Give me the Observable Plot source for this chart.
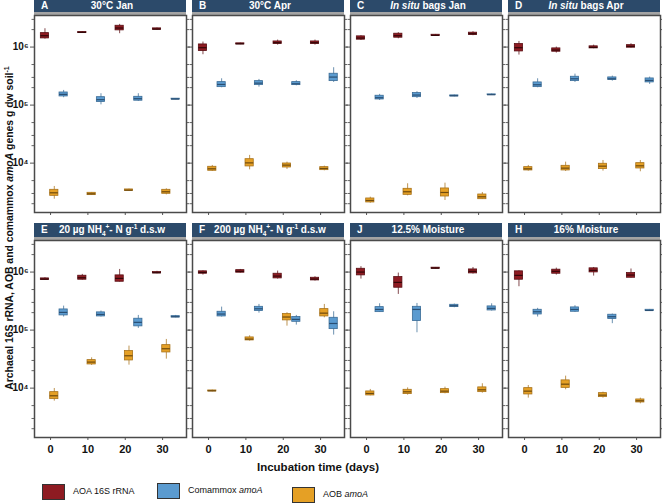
<!DOCTYPE html>
<html><head><meta charset="utf-8">
<script src="https://cdn.jsdelivr.net/npm/d3@7"></script>
<script src="https://cdn.jsdelivr.net/npm/@observablehq/plot@0.6"></script>
<style>
body{margin:0;background:#fff;font-family:"Liberation Sans",Arial,sans-serif}
#fig{position:relative;width:662px;height:503px;overflow:hidden;background:#fff}
.strip{position:absolute;background:#2c4a6a;color:#fff;font-weight:bold;font-size:10px;border-bottom:3px solid #a4a4a4;box-sizing:content-box}
.strip .lt{position:absolute;left:7px;top:0}
.strip .tt{position:absolute;left:16px;right:12px;top:0;text-align:center;white-space:nowrap}
.strip sub,.strip sup{font-size:6.5px;line-height:0}
.pl{position:absolute}
.pl svg{overflow:visible;max-width:none !important}
#ytitle{position:absolute;left:9px;top:228px;transform:translate(-50%,-50%) rotate(-90deg);white-space:nowrap;font-weight:bold;font-size:10.4px;color:#111}
#ytitle sup{font-size:7px}
#xtitle{position:absolute;left:318px;top:467px;transform:translate(-50%,-50%);white-space:nowrap;font-weight:bold;font-size:11.5px;color:#111}
.lg{position:absolute;font-size:9px;color:#111;white-space:nowrap}
.sw{position:absolute;width:23px;height:16px;border:1px solid #333;box-sizing:border-box}
</style>
</head><body>
<div id="fig"></div>
<script>
// ---------- data ----------
const panelLetters = ["A","B","C","D","E","F","J","H"];
const panelTitles = ["30°C Jan","30°C Apr","<i>In situ</i> bags Jan","<i>In situ</i> bags Apr",
  "20 µg NH<sub>4</sub><sup>+</sup>- N g<sup>-1</sup> d.s.w","200 µg NH<sub>4</sub><sup>+</sup>- N g<sup>-1</sup> d.s.w",
  "12.5% Moisture","16% Moisture"];
const days = [0, 10, 20, 30];
const seriesNames = ["AOA 16S rRNA", "Comammox amoA", "AOB amoA"];
const xTicks = [0, 10, 20, 30];
const yMajor = [1e4, 1e5, 1e6];
const yMinor = [2e3, 3e3, 5e3, 2e4, 3e4, 5e4, 2e5, 3e5, 5e5, 2e6, 3e6];

// each box: [lower whisker, q1, median, q3, upper whisker]; one row per panel, one box per day
const aoa = [
 [[1.37e6,1.41e6,1.57e6,1.74e6,2.07e6],[1.72e6,1.74e6,1.79e6,1.82e6,1.84e6],[1.70e6,1.94e6,2.13e6,2.33e6,2.46e6],[1.96e6,1.99e6,2.04e6,2.10e6,2.13e6]],
 [[7.38e5,8.53e5,9.75e5,1.11e6,1.22e6],[1.10e6,1.11e6,1.14e6,1.16e6,1.17e6],[1.08e6,1.13e6,1.19e6,1.25e6,1.32e6],[1.08e6,1.13e6,1.19e6,1.25e6,1.32e6]],
 [[1.30e6,1.34e6,1.43e6,1.53e6,1.57e6],[1.39e6,1.45e6,1.57e6,1.70e6,1.77e6],[1.53e6,1.55e6,1.59e6,1.63e6,1.65e6],[1.57e6,1.61e6,1.70e6,1.77e6,1.84e6]],
 [[7.28e5,8.41e5,9.75e5,1.13e6,1.25e6],[7.88e5,8.31e5,8.88e5,9.49e5,1.0e6],[9.36e5,9.49e5,9.87e5,1.03e6,1.08e6],[9.61e5,9.75e5,1.03e6,1.08e6,1.14e6]],
 [[7.18e5,7.28e5,7.57e5,7.78e5,7.98e5],[7.28e5,7.38e5,7.98e5,8.65e5,9.12e5],[6.73e5,6.81e5,7.78e5,8.77e5,1.11e6],[9.36e5,9.49e5,9.75e5,1.0e6,1.03e6]],
 [[8.88e5,9.36e5,9.87e5,1.03e6,1.05e6],[9.61e5,9.75e5,1.03e6,1.08e6,1.11e6],[7.57e5,7.78e5,8.53e5,9.36e5,1.04e6],[7.0e5,7.18e5,7.57e5,7.98e5,8.31e5]],
 [[7.57e5,8.77e5,1.0e6,1.14e6,1.24e6],[4.12e5,5.37e5,6.64e5,8.20e5,9.61e5],[1.13e6,1.14e6,1.17e6,1.19e6,1.20e6],[9.24e5,9.49e5,1.03e6,1.11e6,1.20e6]],
 [[5.59e5,7.38e5,8.77e5,1.03e6,1.05e6],[8.88e5,9.36e5,1.03e6,1.10e6,1.17e6],[8.53e5,9.87e5,1.07e6,1.16e6,1.20e6],[7.89e5,7.98e5,8.88e5,9.61e5,1.13e6]]
];
const comammox = [
 [[1.34e5,1.41e5,1.53e5,1.65e5,1.79e5],[1.01e5,1.13e5,1.24e5,1.37e5,1.57e5],[1.16e5,1.19e5,1.29e5,1.39e5,1.57e5],[1.24e5,1.25e5,1.27e5,1.29e5,1.30e5]],
 [[1.99e5,2.04e5,2.27e5,2.49e5,2.84e5],[2.04e5,2.21e5,2.39e5,2.59e5,2.77e5],[2.15e5,2.21e5,2.33e5,2.49e5,2.63e5],[2.46e5,2.59e5,3.04e5,3.47e5,4.41e5]],
 [[1.20e5,1.25e5,1.34e5,1.45e5,1.53e5],[1.30e5,1.37e5,1.49e5,1.61e5,1.70e5],[1.39e5,1.41e5,1.45e5,1.47e5,1.49e5],[1.47e5,1.49e5,1.51e5,1.53e5,1.55e5]],
 [[1.99e5,2.04e5,2.24e5,2.46e5,2.84e5],[2.46e5,2.59e5,2.84e5,3.08e5,3.42e5],[2.59e5,2.70e5,2.84e5,3.0e5,3.16e5],[2.27e5,2.46e5,2.66e5,2.88e5,3.04e5]],
 [[1.68e5,1.79e5,2.02e5,2.27e5,2.59e5],[1.68e5,1.72e5,1.86e5,2.02e5,2.13e5],[1.07e5,1.16e5,1.36e5,1.57e5,1.79e5],[1.63e5,1.65e5,1.70e5,1.74e5,1.79e5]],
 [[1.68e5,1.72e5,1.89e5,2.07e5,2.49e5],[1.96e5,2.13e5,2.33e5,2.52e5,2.77e5],[1.22e5,1.39e5,1.53e5,1.68e5,1.79e5],[8.20e4,1.04e5,1.30e5,1.63e5,2.07e5]],
 [[2.02e5,2.04e5,2.27e5,2.49e5,2.84e5],[9.0e4,1.43e5,2.27e5,2.52e5,2.88e5],[2.43e5,2.49e5,2.63e5,2.73e5,2.81e5],[2.13e5,2.18e5,2.37e5,2.56e5,2.84e5]],
 [[1.68e5,1.86e5,2.07e5,2.24e5,2.37e5],[2.02e5,2.07e5,2.27e5,2.46e5,2.63e5],[1.29e5,1.55e5,1.70e5,1.84e5,1.89e5],[2.10e5,2.13e5,2.18e5,2.24e5,2.27e5]]
];
const aob = [
 [[2.39e3,2.73e3,3.08e3,3.47e3,3.96e3],[2.77e3,2.81e3,2.96e3,3.08e3,3.12e3],[3.29e3,3.33e3,3.42e3,3.52e3,3.56e3],[2.84e3,2.96e3,3.21e3,3.47e3,3.61e3]],
 [[7.18e3,7.38e3,7.98e3,8.65e3,9.12e3],[7.67e3,8.77e3,1.01e4,1.17e4,1.36e4],[7.78e3,8.41e3,9.24e3,9.86e3,1.04e4],[7.38e3,7.57e3,8.09e3,8.53e3,8.87e3]],
 [[2.04e3,2.10e3,2.27e3,2.46e3,2.59e3],[2.73e3,2.84e3,3.21e3,3.61e3,4.41e3],[2.27e3,2.66e3,3.12e3,3.66e3,4.52e3],[2.36e3,2.39e3,2.63e3,2.88e3,3.12e3]],
 [[7.28e3,7.48e3,7.98e3,8.53e3,9.12e3],[7.18e3,7.48e3,8.20e3,8.99e3,1.04e4],[7.28e3,7.89e3,8.87e3,9.75e3,1.11e4],[7.10e3,8.09e3,8.99e3,1.0e4,1.11e4]],
 [[5.97e3,6.46e3,7.38e3,8.53e3,9.86e3],[2.46e4,2.56e4,2.81e4,3.04e4,3.33e4],[2.49e4,3.0e4,3.61e4,4.35e4,5.30e4],[3.16e4,4.12e4,4.77e4,5.51e4,6.90e4]],
 [[8.65e3,8.77e3,8.99e3,9.12e3,9.24e3],[6.46e4,6.64e4,7.0e4,7.48e4,7.98e4],[1.17e5,1.47e5,1.68e5,1.89e5,1.99e5],[1.63e5,1.72e5,1.96e5,2.30e5,2.77e5]],
 [[7.38e3,7.48e3,8.09e3,8.77e3,9.49e3],[7.57e3,7.89e3,8.65e3,9.36e3,1.01e4],[7.98e3,8.20e3,8.87e3,9.61e3,1.04e4],[8.20e3,8.53e3,9.36e3,1.03e4,1.19e4]],
 [[6.73e3,7.78e3,8.87e3,1.0e4,1.11e4],[9.36e3,1.01e4,1.17e4,1.36e4,1.61e4],[6.73e3,7.0e3,7.57e3,8.20e3,8.53e3],[5.37e3,5.66e3,6.05e3,6.38e3,6.73e3]]
];

// ---------- style / layout ----------
const fills   = ["#8e1b22", "#5b9bd0", "#e5a025"];
const strokes = ["#5a0f14", "#3b6c96", "#a8721a"];
const medians = ["#330608", "#2a4f73", "#6e4a0e"];
const dodge = [-1.5, 3.5, 1.0];   // day offset of each series within a sampling day
const halfW = 1.1;                // half box width, in days
const colLeft = [34, 192, 350, 508];
const PW = 152, PH = 197;
const rowTop = [15, 240];
const stripTop = [0, 223], stripH = [12, 14];
const ML = 30, MR = 6, MT = 2, MB = 22;
const sup = {3: "³", 4: "⁴", 5: "⁵", 6: "⁶", 7: "⁷"};
const fig = document.getElementById("fig");
const seriesData = [aoa, comammox, aob];

panelLetters.forEach((letter, p) => {
  const r = Math.floor(p / 4), c = p % 4;
  // strip header
  const st = document.createElement("div");
  st.className = "strip";
  st.style.left = colLeft[c] + "px";
  st.style.top = stripTop[r] + "px";
  st.style.width = PW + "px";
  st.style.height = stripH[r] + "px";
  st.style.lineHeight = stripH[r] + "px";
  st.innerHTML = `<span class="lt">${letter}</span><span class="tt">${panelTitles[p]}</span>`;
  fig.appendChild(st);

  const rows = [];
  seriesData.forEach((arr, s) => {
    days.forEach((d, k) => {
      const [lo, q1, med, q3, hi] = arr[p][k];
      rows.push({series: s, x: d + dodge[s], lo, q1, med, q3, hi});
    });
  });

  const showY = c === 0, showX = r === 1;
  const W = ML + PW + MR, H = MT + PH + MB;
  const chart = Plot.plot({
    width: W, height: H,
    marginLeft: ML, marginRight: MR, marginTop: MT, marginBottom: MB,
    style: {background: "transparent", overflow: "visible", fontFamily: "Liberation Sans, Arial, sans-serif", color: "#222", maxWidth: "none"},
    x: {domain: [-4.3, 36.4]},
    y: {type: "log", domain: [1410, 3.5e6]},
    marks: [
      Plot.ruleX(rows, {x: "x", y1: "lo", y2: "hi", stroke: d => strokes[d.series], strokeWidth: 1, strokeOpacity: 0.75}),
      Plot.rect(rows, {x1: d => d.x - halfW, x2: d => d.x + halfW, y1: "q1", y2: "q3", fill: d => fills[d.series], stroke: d => strokes[d.series], strokeWidth: 0.8}),
      Plot.ruleY(rows, {y: "med", x1: d => d.x - halfW, x2: d => d.x + halfW, stroke: d => medians[d.series], strokeWidth: 1.2}),
      Plot.axisY({ticks: yMajor, anchor: "left", tickSize: 4, tickPadding: 2, label: null, fontSize: 10, fontWeight: "bold",
        stroke: "#555", fill: showY ? "#111" : "none", tickFormat: v => "10" + sup[Math.round(Math.log10(v))]}),
      Plot.axisY({ticks: yMinor, anchor: "left", tickSize: 2.5, label: null, stroke: "#666", fill: "none"}),
      Plot.axisY({ticks: yMajor, anchor: "right", tickSize: 3, label: null, stroke: "#555", fill: "none"}),
      Plot.axisY({ticks: yMinor, anchor: "right", tickSize: 2, label: null, stroke: "#666", fill: "none"}),
      Plot.axisX({ticks: xTicks, anchor: "bottom", tickSize: 3, tickPadding: 5, label: null, fontSize: 11, fontWeight: "bold",
        stroke: "#555", fill: showX ? "#111" : "none", tickFormat: d => String(d)}),
      Plot.frame({stroke: "#4a4a4a", strokeWidth: 1.5})
    ]
  });
  chart.style.maxWidth = "none";
  chart.style.width = W + "px";
  chart.style.height = H + "px";
  const holder = document.createElement("div");
  holder.className = "pl";
  holder.style.left = (colLeft[c] - ML) + "px";
  holder.style.top = (rowTop[r] - MT) + "px";
  holder.style.width = W + "px";
  holder.style.height = H + "px";
  holder.appendChild(chart);
  fig.appendChild(holder);
});

// axis titles
const yt = document.createElement("div");
yt.id = "ytitle";
yt.innerHTML = "Archaeal 16S rRNA, AOB and comammox <i>amoA</i> genes g dw soil<sup>-1</sup>";
fig.appendChild(yt);
const xt = document.createElement("div");
xt.id = "xtitle";
xt.textContent = "Incubation time (days)";
fig.appendChild(xt);

// legend
const legendLabels = ["AOA 16S rRNA", "Comammox <i>amoA</i>", "AOB <i>amoA</i>"];
const legendX = [42, 157, 292];
const legendY = [484, 483, 487];
seriesNames.forEach((name, s) => {
  const sw = document.createElement("div");
  sw.className = "sw";
  sw.style.left = legendX[s] + "px";
  sw.style.top = legendY[s] + "px";
  sw.style.background = fills[s];
  fig.appendChild(sw);
  const lb = document.createElement("div");
  lb.className = "lg";
  lb.style.left = (legendX[s] + 31) + "px";
  lb.style.top = (legendY[s] + 2) + "px";
  lb.innerHTML = legendLabels[s];
  fig.appendChild(lb);
});
</script>
</body></html>
